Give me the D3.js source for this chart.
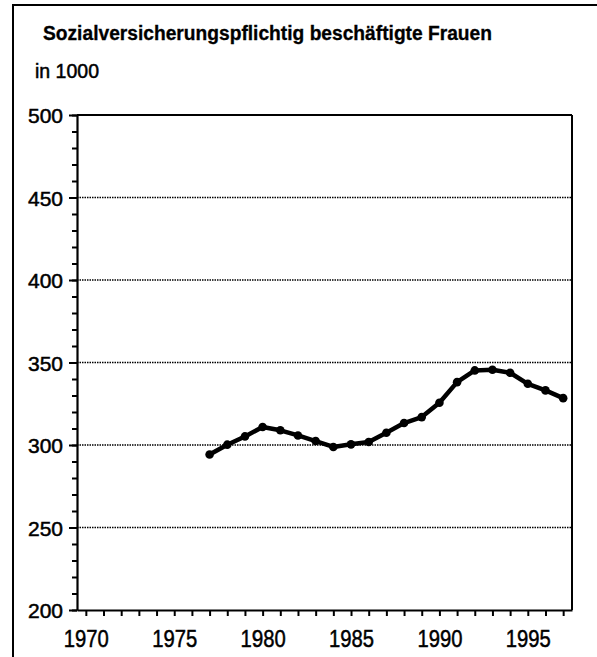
<!DOCTYPE html>
<html>
<head>
<meta charset="utf-8">
<script src="https://cdn.jsdelivr.net/npm/d3@7"></script>
<style>
  body { margin: 0; background: #fff; }
  svg { display: block; font-family: "Liberation Sans", Arial, sans-serif; }
</style>
</head>
<body>
<div id="chart"></div>
<script>
// data (in 1000)
const years = [1977, 1978, 1979, 1980, 1981, 1982, 1983, 1984, 1985, 1986, 1987,
               1988, 1989, 1990, 1991, 1992, 1993, 1994, 1995, 1996, 1997];
const values = [294.2, 300.2, 305.2, 310.9, 308.9, 305.8, 302.4, 298.8, 300.4, 301.8, 307.4,
                313.3, 316.9, 325.6, 338.1, 345.2, 345.6, 343.8, 337.1, 333.1, 328.4];
const yTicks = [200, 250, 300, 350, 400, 450, 500];
const xLabels = [1970, 1975, 1980, 1985, 1990, 1995];

const w = 597, h = 657;
const padL = 77, padR = 572, padT = 115, padB = 610;

const svg = d3.select("#chart").append("svg")
  .attr("width", w)
  .attr("height", h);

// outer frame (only left and top visible)
svg.append("line").attr("x1", 13).attr("x2", 13).attr("y1", 4).attr("y2", h)
  .attr("stroke", "#000").attr("stroke-width", 2);
svg.append("line").attr("x1", 13).attr("x2", w).attr("y1", 5).attr("y2", 5)
  .attr("stroke", "#000").attr("stroke-width", 2);

svg.append("text")
  .attr("x", 43).attr("y", 40)
  .attr("font-size", 19.5).attr("font-weight", "bold")
  .attr("stroke", "#000").attr("stroke-width", 0.3)
  .attr("textLength", 449).attr("lengthAdjust", "spacingAndGlyphs")
  .text("Sozialversicherungspflichtig beschäftigte Frauen");

svg.append("text")
  .attr("x", 35).attr("y", 78)
  .attr("font-size", 19.5)
  .attr("stroke", "#000").attr("stroke-width", 0.5)
  .text("in 1000");

const x = d3.scaleLinear().domain([1969.5, 1997.5]).range([padL, padR]);
const y = d3.scaleLinear().domain([200, 500]).range([padB, padT]);

// dotted grid lines
svg.append("g").selectAll("line")
  .data(yTicks.filter(d => d > 200 && d < 500))
  .enter().append("line")
  .attr("x1", padL).attr("x2", padR)
  .attr("y1", d => y(d)).attr("y2", d => y(d))
  .attr("stroke", "#000").attr("stroke-width", 1.3)
  .attr("stroke-dasharray", "1.5,1");

// plot box top and right
svg.append("line").attr("x1", padL).attr("x2", padR).attr("y1", padT).attr("y2", padT)
  .attr("stroke", "#000").attr("stroke-width", 2);
svg.append("line").attr("x1", padR).attr("x2", padR).attr("y1", padT).attr("y2", padB)
  .attr("stroke", "#000").attr("stroke-width", 2);

// y axis minor ticks
const minor = d3.range(200, 501, 10);
svg.append("g")
  .attr("transform", "translate(" + padL + ",0)")
  .call(d3.axisLeft(y).tickValues(minor).tickSize(5).tickFormat("").tickSizeOuter(0))
  .call(g => g.selectAll("line").attr("stroke-width", 2));

const yAxis = svg.append("g")
  .attr("transform", "translate(" + padL + ",0)")
  .call(d3.axisLeft(y).tickValues(yTicks).tickSize(8).tickPadding(6).tickSizeOuter(0));
yAxis.select(".domain").attr("stroke-width", 2.2);
yAxis.selectAll("line").attr("stroke-width", 2);
yAxis.selectAll("text")
  .attr("font-size", 21).attr("fill", "#000")
  .attr("stroke", "#000").attr("stroke-width", 0.5)
  .attr("font-family", "Liberation Sans, Arial, sans-serif")
  .attr("dy", "0.36em");

const xAxis = svg.append("g")
  .attr("transform", "translate(0," + padB + ")")
  .call(d3.axisBottom(x).tickValues(d3.range(1970, 1998)).tickSize(6)
    .tickFormat(d => xLabels.includes(d) ? d : "").tickSizeOuter(0));
xAxis.select(".domain").attr("stroke-width", 2.2);
xAxis.selectAll("line").attr("stroke-width", 2);
xAxis.selectAll("text")
  .attr("font-size", 24).attr("fill", "#000")
  .attr("stroke", "#000").attr("stroke-width", 0.5)
  .attr("font-family", "Liberation Sans, Arial, sans-serif")
  .attr("y", 0).attr("dy", 37)
  .filter(d => xLabels.includes(d))
  .attr("textLength", 45).attr("lengthAdjust", "spacingAndGlyphs");

// series
const pts = years.map((yr, i) => [yr, values[i]]);
svg.append("path")
  .datum(pts)
  .attr("fill", "none").attr("stroke", "#000").attr("stroke-width", 4.5)
  .attr("stroke-linejoin", "round")
  .attr("d", d3.line().x(d => x(d[0])).y(d => y(d[1])));

svg.append("g").selectAll("circle")
  .data(pts)
  .enter().append("circle")
  .attr("cx", d => x(d[0])).attr("cy", d => y(d[1]))
  .attr("r", 4.3).attr("fill", "#000");
</script>
</body>
</html>
